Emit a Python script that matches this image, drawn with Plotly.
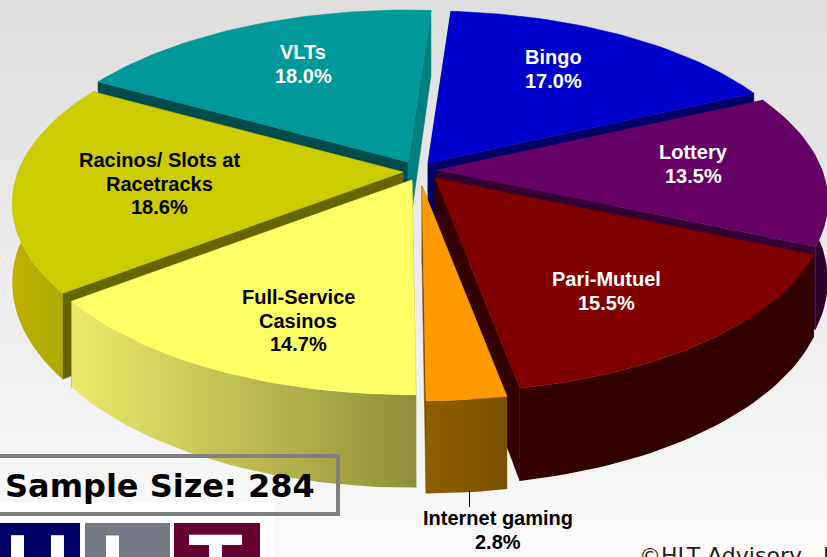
import math
import plotly.graph_objects as go

# --- data ---------------------------------------------------------------
categories = ["Bingo", "Lottery", "Pari-Mutuel", "Internet gaming",
              "Full-Service Casinos", "Racinos/ Slots at Racetracks", "VLTs"]
shares = [17.0, 13.5, 15.5, 2.8, 14.7, 18.6, 18.0]
label_lines = [["Bingo"], ["Lottery"], ["Pari-Mutuel"], ["Internet gaming"],
               ["Full-Service", "Casinos"], ["Racinos/ Slots at", "Racetracks"], ["VLTs"]]
sample_text = "Sample Size: 284"
credit_text = "©HLT Advisory   Inc."
logo_letters = ["H", "L", "T"]

# --- styles -------------------------------------------------------------
top_colors = ["#0000CC", "#660066", "#800000", "#FF9900", "#FFFF66", "#CCCC00", "#009999"]
radial_colors = ["#000066", "#330033", "#330000", "#7A4F00", "#999933", "#666600", "#007F7F"]
end_wall_colors = ["#000099", "#330033", "#330000", "#7A4F00", "#8F8F3A", "#666600", "#004C4C"]
outer_grad = [("#000099", "#000066"), ("#2A002A", "#330033"), ("#330000", "#330000"),
              ("#8F5F00", "#7A5000"), ("#EAEA6A", "#8F8F3A"), ("#BFB000", "#B0A800"),
              ("#007F7F", "#007F7F")]
apex = [(428, 163), (437, 170), (435, 178), (422, 186), (412, 180), (403, 172), (408, 162)]
label_x = [553, 693, 606, 498, 298, 159, 303]
label_first_y = [57, 152, 279, 518, 297, 160, 52]
label_color = ["white", "white", "white", "black", "black", "black", "white"]
LINE_STEP = 23.5

RX, RY, K, DEPTH, START = 385.0, 178.0, 0.171, 77.0, 4.0
total = sum(shares)


def project(ax, ay, deg, r=1.0, z=0.0):
    t = math.radians(deg)
    v = -math.cos(t)
    s = 1.0 / (1.0 - K * v)
    return ax + RX * r * math.sin(t) * s, ay + RY * r * v * s + z * s


def poly(xs, ys, color, grad=None):
    kw = dict(x=xs + xs[:1], y=ys + ys[:1], mode="lines", fill="toself",
              line=dict(width=0.5, color=color if grad is None else grad[0]),
              hoverinfo="skip", showlegend=False)
    if grad is None:
        kw["fillcolor"] = color
    else:
        kw["fillgradient"] = dict(type="horizontal",
                                  colorscale=[[0, grad[0]], [1, grad[1]]])
        kw["line"] = dict(width=0)
    return go.Scatter(**kw)


fig = go.Figure()

# page background gradient
fig.add_trace(go.Scatter(x=[0, 827, 827, 0, 0], y=[0, 0, 557, 557, 0], mode="lines", fill="toself",
                         line=dict(width=0), hoverinfo="skip", showlegend=False,
                         fillgradient=dict(type="vertical",
                                           colorscale=[[0, "#FAFAFA"], [1, "#DEDEDE"]])))

# slices, painter's order from the far side forward
slices = []
angle = START
for i, share in enumerate(shares):
    sweep = share / total * 360.0
    slices.append((i, angle, angle + sweep))
    angle += sweep
slices.sort(key=lambda s: -math.cos(math.radians((s[1] + s[2]) / 2)))

for i, a0, a1 in slices:
    ax, ay = apex[i]
    steps = max(6, int((a1 - a0) / 1.5))
    degs = [a0 + (a1 - a0) * n / steps for n in range(steps + 1)]
    top = [project(ax, ay, d) for d in degs]
    bot = [project(ax, ay, d, z=DEPTH) for d in degs]
    apex_low = (ax, ay + DEPTH)
    # radial walls
    fig.add_trace(poly([ax, top[0][0], bot[0][0], apex_low[0]],
                       [ay, top[0][1], bot[0][1], apex_low[1]], end_wall_colors[i]))
    fig.add_trace(poly([ax, top[-1][0], bot[-1][0], apex_low[0]],
                       [ay, top[-1][1], bot[-1][1], apex_low[1]], radial_colors[i]))
    # outer wall: only the part facing the viewer
    facing = [n for n, d in enumerate(degs) if -math.cos(math.radians(d)) > -0.1]
    if len(facing) > 1:
        pts = [top[n] for n in facing] + [bot[n] for n in reversed(facing)]
        g = outer_grad[i]
        fig.add_trace(poly([p[0] for p in pts], [p[1] for p in pts], g[0], grad=g))
    # top face
    fig.add_trace(poly([ax] + [p[0] for p in top], [ay] + [p[1] for p in top], top_colors[i]))

# labels: one annotation per line, so that the line spacing can match
annotations = []
for i, lines in enumerate(label_lines):
    parts = lines + ["%.1f%%" % shares[i]]
    for n, part in enumerate(parts):
        annotations.append(dict(x=label_x[i], y=label_first_y[i] + n * LINE_STEP, text=part,
                                showarrow=False, xref="x", yref="y", align="center",
                                font=dict(family="Liberation Sans", size=20, color=label_color[i], weight="bold")))
annotations.append(dict(x=3, y=486, text=sample_text, showarrow=False, xanchor="left",
                        font=dict(family="DejaVu Sans", size=32, color="black", weight="bold")))
annotations.append(dict(x=637, y=557, text=credit_text, showarrow=False, xanchor="left", yanchor="top",
                        yshift=16,
                        font=dict(family="DejaVu Sans", size=22, color="#222222")))
for letter, lx in zip(logo_letters, [37, 127, 215]):
    annotations.append(dict(x=lx, y=557, text=letter, showarrow=False, yanchor="top", yshift=42,
                            font=dict(family="Liberation Sans", size=90, color="white", weight="bold")))

shapes = [
    dict(type="rect", x0=0, x1=274, y0=502, y1=557, fillcolor="white", line=dict(width=0), layer="above"),
    dict(type="rect", x0=-4, x1=338, y0=456, y1=514, fillcolor="rgba(0,0,0,0)",
         line=dict(color="#808080", width=4), layer="above"),
    dict(type="rect", x0=0, x1=80, y0=523, y1=557, fillcolor="#000066", line=dict(width=0), layer="above"),
    dict(type="rect", x0=85, x1=170, y0=523, y1=557, fillcolor="#767A85", line=dict(width=0), layer="above"),
    dict(type="rect", x0=174, x1=260, y0=523, y1=557, fillcolor="#660033", line=dict(width=0), layer="above"),
    dict(type="line", x0=469.5, x1=469.5, y0=491, y1=507, line=dict(color="black", width=1), layer="above"),
]

fig.update_layout(
    width=827, height=557, margin=dict(l=0, r=0, t=0, b=0),
    paper_bgcolor="#EEEEEE", plot_bgcolor="#EEEEEE", showlegend=False,
    xaxis=dict(range=[0, 827], visible=False, fixedrange=True),
    yaxis=dict(range=[557, 0], visible=False, fixedrange=True),
    annotations=annotations, shapes=shapes,
)
fig.write_html("out.html", config=dict(displayModeBar=False),
               post_script="document.body.style.margin='0';document.body.style.overflow='hidden';")
